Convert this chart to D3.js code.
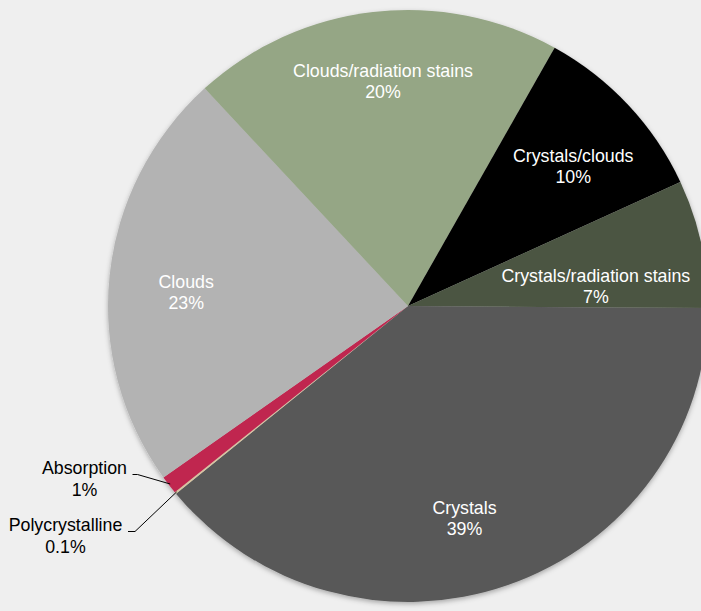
<!DOCTYPE html>
<html>
<head>
<meta charset="utf-8">
<script src="https://cdn.jsdelivr.net/npm/d3@7"></script>
<style>
  html, body { margin: 0; padding: 0; background: #efefef; }
  svg { display: block; }
  text { font-family: "Liberation Sans", Arial, Helvetica, sans-serif; font-size: 17.8px; }
</style>
</head>
<body>
<svg id="chart" width="701" height="611"></svg>
<script>
// Share of each observed feature type (percent)
const categories = ["Crystals", "Polycrystalline", "Absorption", "Clouds",
                    "Clouds/radiation stains", "Crystals/clouds", "Crystals/radiation stains"];
const values = [39, 0.1, 1, 23, 20, 10, 7];
const valueLabels = ["39%", "0.1%", "1%", "23%", "20%", "10%", "7%"];
const colors = ["#595959", "#d8c4a0", "#c0284f", "#b3b3b3", "#95a685", "#000000", "#4b5443"];

const width = 701, height = 611;
const cx = 408, cy = 306;
const rx = 300, ry = 296;   // pie is drawn very slightly flattened

const svg = d3.select("#chart");

// soft shadow under the pie
const defs = svg.append("defs");
const f = defs.append("filter").attr("id", "shadow")
  .attr("x", "-10%").attr("y", "-10%").attr("width", "120%").attr("height", "120%");
f.append("feDropShadow").attr("dx", 0).attr("dy", 2).attr("stdDeviation", 2.5)
  .attr("flood-color", "#000").attr("flood-opacity", 0.3);

const data = categories.map((c, i) => ({ name: c, value: values[i], label: valueLabels[i], color: colors[i] }));

const startAngle = 90.4 * Math.PI / 180;
const pie = d3.pie().sort(null).value(d => d.value)
  .startAngle(startAngle).endAngle(startAngle + 2 * Math.PI);
const arcs = pie(data);

const arc = d3.arc().innerRadius(0).outerRadius(rx);

const g = svg.append("g").attr("transform", `translate(${cx},${cy})`);

g.append("g").attr("filter", "url(#shadow)")
  .append("g").attr("transform", `scale(1, ${ry / rx})`)
  .selectAll("path").data(arcs).join("path")
  .attr("d", arc)
  .attr("fill", d => d.data.color);

// Inside labels: placed along the slice's mid-angle; a few are nudged to fit
const labelTweak = {
  "Crystals": { da: 4.5, rf: 0.755, dx: -2, dy: -4 },
  "Clouds": { da: 0, rf: 0.74, dx: -1, dy: 9 },
  "Clouds/radiation stains": { da: 0.8, rf: 0.745, dx: -2, dy: -6 },
  "Crystals/clouds": { da: 3, rf: 0.725, dx: -2, dy: -3 },
  "Crystals/radiation stains": { da: 7.5, rf: 0.635, dx: -2, dy: -5 }
};
const outside = new Set(["Polycrystalline", "Absorption"]);

function polar(angle, fr) {
  return [fr * rx * Math.sin(angle), -fr * ry * Math.cos(angle)];
}

arcs.filter(d => !outside.has(d.data.name)).forEach(d => {
  const t = labelTweak[d.data.name];
  const mid = (d.startAngle + d.endAngle) / 2 + t.da * Math.PI / 180;
  const [x0, y0] = polar(mid, t.rf);
  const x = x0 + t.dx, y = y0 + t.dy;
  const txt = g.append("text").attr("text-anchor", "middle").attr("fill", "#ffffff")
    .attr("x", x).attr("y", y - 4);
  txt.append("tspan").attr("x", x).attr("dy", 0).text(d.data.name);
  txt.append("tspan").attr("x", x).attr("dy", 21).text(d.data.label);
});

// Outside labels with two-part leader lines
const outsideLayout = {
  "Absorption": { tx: 84.5, ty: 474, lx: 137.5, ly: 474.5, hx: 132.5 },
  "Polycrystalline": { tx: 65.5, ty: 531, lx: 135, ly: 531.5, hx: 128 }
};
arcs.filter(d => outside.has(d.data.name)).forEach(d => {
  const L = outsideLayout[d.data.name];
  const mid = (d.startAngle + d.endAngle) / 2;
  const [ex, ey] = polar(mid, 0.995);
  svg.append("polyline")
    .attr("points", `${L.hx},${L.ly} ${L.lx},${L.ly} ${cx + ex},${cy + ey}`)
    .attr("fill", "none").attr("stroke", "#000").attr("stroke-width", 1);
  const txt = svg.append("text").attr("text-anchor", "middle").attr("fill", "#000")
    .attr("x", L.tx).attr("y", L.ty);
  txt.append("tspan").attr("x", L.tx).attr("dy", 0).text(d.data.name);
  txt.append("tspan").attr("x", L.tx).attr("dy", 22).text(d.data.label);
});
</script>
</body>
</html>
